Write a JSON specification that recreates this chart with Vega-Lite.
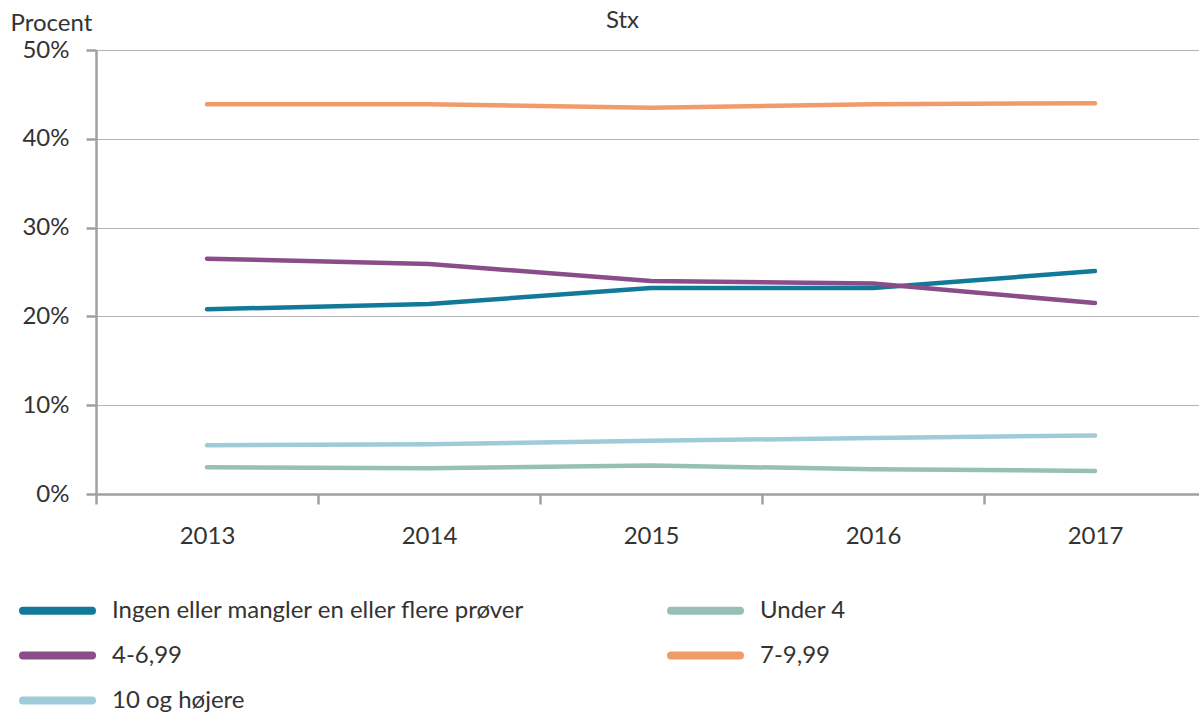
{
  "$schema": "https://vega.github.io/schema/vega-lite/v6.json",
  "width": 1103,
  "height": 444,
  "autosize": {"type": "none"},
  "padding": {"left": 96, "top": 50, "right": 0, "bottom": 223},
  "background": "white",
  "title": {"text": "Stx", "anchor": "middle", "frame": "group", "dx": -25, "dy": 36, "offset": 14, "font": "Lato", "fontSize": 24, "fontWeight": "normal", "color": "#333333"},
  "data": {"values": [
    {"year": "2013", "group": "Ingen eller mangler en eller flere prøver", "value": 20.8},
    {"year": "2014", "group": "Ingen eller mangler en eller flere prøver", "value": 21.4},
    {"year": "2015", "group": "Ingen eller mangler en eller flere prøver", "value": 23.2},
    {"year": "2016", "group": "Ingen eller mangler en eller flere prøver", "value": 23.2},
    {"year": "2017", "group": "Ingen eller mangler en eller flere prøver", "value": 25.1},
    {"year": "2013", "group": "Under 4", "value": 3.0},
    {"year": "2014", "group": "Under 4", "value": 2.9},
    {"year": "2015", "group": "Under 4", "value": 3.2},
    {"year": "2016", "group": "Under 4", "value": 2.8},
    {"year": "2017", "group": "Under 4", "value": 2.6},
    {"year": "2013", "group": "4-6,99", "value": 26.5},
    {"year": "2014", "group": "4-6,99", "value": 25.9},
    {"year": "2015", "group": "4-6,99", "value": 24.0},
    {"year": "2016", "group": "4-6,99", "value": 23.7},
    {"year": "2017", "group": "4-6,99", "value": 21.5},
    {"year": "2013", "group": "7-9,99", "value": 43.9},
    {"year": "2014", "group": "7-9,99", "value": 43.9},
    {"year": "2015", "group": "7-9,99", "value": 43.5},
    {"year": "2016", "group": "7-9,99", "value": 43.9},
    {"year": "2017", "group": "7-9,99", "value": 44.0},
    {"year": "2013", "group": "10 og højere", "value": 5.5},
    {"year": "2014", "group": "10 og højere", "value": 5.6},
    {"year": "2015", "group": "10 og højere", "value": 6.0},
    {"year": "2016", "group": "10 og højere", "value": 6.3},
    {"year": "2017", "group": "10 og højere", "value": 6.6}
  ]},
  "mark": {"type": "line", "strokeWidth": 4.5, "strokeCap": "round"},
  "encoding": {
    "x": {
      "field": "year", "type": "ordinal",
      "scale": {"type": "band", "range": [0, 1110], "paddingInner": 0, "paddingOuter": 0},
      "axis": {
        "title": null, "labelAngle": 0, "tickBand": "extent",
        "domainColor": "#a0a0a0", "domainWidth": 2.5, "tickColor": "#a0a0a0", "tickWidth": 2.5, "tickSize": 10,
        "labelFont": "Lato", "labelFontSize": 24, "labelColor": "#333333", "labelPadding": 20, "grid": false
      }
    },
    "y": {
      "field": "value", "type": "quantitative",
      "scale": {"domain": [0, 50], "nice": false},
      "axis": {
        "values": [0, 10, 20, 30, 40, 50],
        "labelExpr": "datum.value + '%'",
        "title": "Procent", "titleAngle": 0, "titleX": -86, "titleY": -20, "titleAlign": "left", "titleBaseline": "alphabetic",
        "titleFont": "Lato", "titleFontSize": 24, "titleFontWeight": "normal", "titleColor": "#333333",
        "domainColor": "#a0a0a0", "domainWidth": 2.5, "tickColor": "#a0a0a0", "tickWidth": 2.5, "tickSize": 10,
        "labelFont": "Lato", "labelFontSize": 24, "labelColor": "#333333", "labelPadding": 17,
        "grid": true, "gridColor": "#b4b4b4", "gridWidth": 1.2
      }
    },
    "color": {
      "field": "group", "type": "nominal",
      "scale": {
        "domain": ["Ingen eller mangler en eller flere prøver", "4-6,99", "10 og højere", "Under 4", "7-9,99"],
        "range": ["#127a98", "#8a4d8a", "#9ecbd7", "#96c0b5", "#f19b6a"]
      },
      "legend": {
        "title": null, "orient": "none", "legendX": -54, "legendY": 545, "direction": "vertical", "columns": 2,
        "columnPadding": 130, "rowPadding": 12, "gridAlign": "all",
        "symbolType": "M-3,0H3", "symbolSize": 529, "symbolStrokeWidth": 8, "symbolFillColor": "transparent",
        "labelFont": "Lato", "labelFontSize": 24, "labelColor": "#333333", "labelOffset": 39, "labelLimit": 600,
        "encode": {"symbols": {"update": {"strokeCap": {"value": "round"}, "fill": {"value": "transparent"}}}}
      }
    }
  },
  "config": {"view": {"stroke": null}}
}
